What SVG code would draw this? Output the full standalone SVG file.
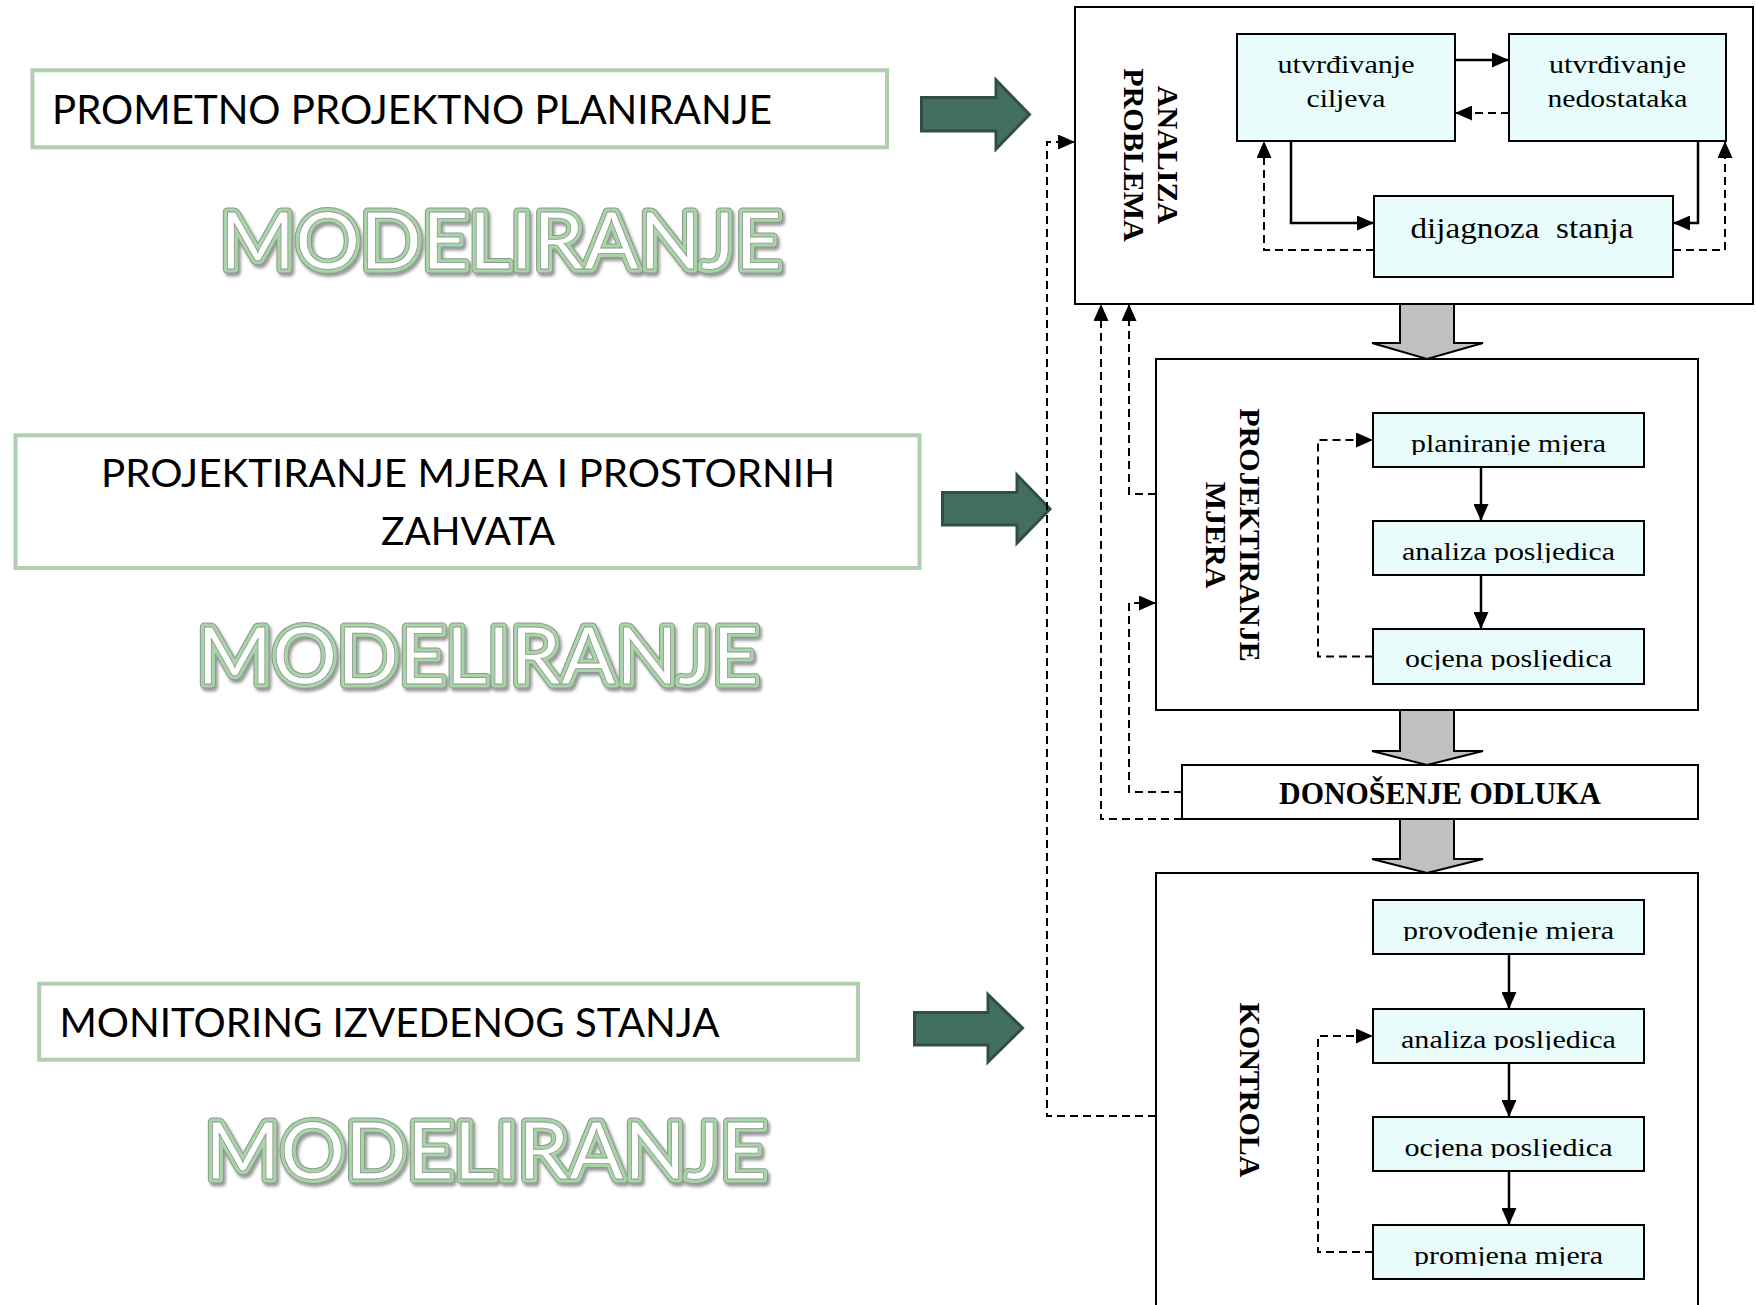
<svg xmlns="http://www.w3.org/2000/svg" xmlns:xlink="http://www.w3.org/1999/xlink" width="1756" height="1305" viewBox="0 0 1756 1305">
<style>
.box{fill:#fff;stroke:#000;stroke-width:2}
.inner{fill:#e8fcfc;stroke:#000;stroke-width:2}
.gbox{fill:#fff;stroke:#b0ceb0;stroke-width:4}
.garrow{fill:#436f5f;stroke:#2f4f43;stroke-width:3}
.gray{fill:#c0c0c0;stroke:#000;stroke-width:2}
.solid{fill:none;stroke:#000;stroke-width:2.5}
.dash{fill:none;stroke:#000;stroke-width:2;stroke-dasharray:8 5}
.serif{font-family:"Liberation Serif","Times New Roman",serif;fill:#000}
.sans{font-family:Lato,"Open Sans","Noto Sans",sans-serif;fill:#000}
.title{font-weight:bold;font-size:30px}
.lbl{font-size:25.5px}
.mid{text-anchor:middle}
.wo{fill:none;stroke:#8a9a8a;stroke-width:9;stroke-linejoin:round}
.wg{fill:none;stroke:#a9d3a9;stroke-width:7;stroke-linejoin:round}
.ww{fill:#fff;stroke:#8a9a8a;stroke-width:0.8}
</style>
<defs>
<marker id="ah" markerUnits="userSpaceOnUse" markerWidth="17" markerHeight="15" refX="17" refY="7.5" orient="auto">
<path d="M0,0 L17,7.5 L0,15 z" fill="#000"/>
</marker>
<filter id="shadow" x="-5%" y="-20%" width="110%" height="140%">
<feDropShadow dx="2" dy="3" stdDeviation="1.5" flood-color="#555" flood-opacity="0.6"/>
</filter>
<text id="mod1" x="220" y="269" font-family="Lato, Open Sans, sans-serif" font-size="80" textLength="562" lengthAdjust="spacingAndGlyphs">MODELIRANJE</text>
<text id="mod2" x="197" y="684" font-family="Lato, Open Sans, sans-serif" font-size="80" textLength="562" lengthAdjust="spacingAndGlyphs">MODELIRANJE</text>
<text id="mod3" x="205" y="1179" font-family="Lato, Open Sans, sans-serif" font-size="80" textLength="562" lengthAdjust="spacingAndGlyphs">MODELIRANJE</text>
<clipPath id="descClip">
<rect x="1374" y="413" width="270" height="42"/>
<rect x="1374" y="521" width="270" height="42"/>
<rect x="1374" y="629" width="270" height="41"/>
<rect x="1374" y="900" width="270" height="41"/>
<rect x="1374" y="1009" width="270" height="41"/>
<rect x="1374" y="1117" width="270" height="41"/>
<rect x="1374" y="1225" width="270" height="41"/>
</clipPath>
</defs>

<rect width="1756" height="1305" fill="#fff"/>

<!-- Left column -->
<g id="node-prometno">
<rect class="gbox" x="32.4" y="70.3" width="854.6" height="77"/>
<text class="sans" x="52" y="124" font-size="41" textLength="720" lengthAdjust="spacingAndGlyphs">PROMETNO PROJEKTNO PLANIRANJE</text>
</g>
<g id="modeliranje-1" filter="url(#shadow)">
<use href="#mod1" class="wo"/><use href="#mod1" class="wg"/><use href="#mod1" class="ww"/>
</g>
<g id="node-projektiranje">
<rect class="gbox" x="15.5" y="435.3" width="904" height="132.7"/>
<text class="sans mid" x="468" y="487" font-size="39" textLength="734" lengthAdjust="spacingAndGlyphs">PROJEKTIRANJE MJERA I PROSTORNIH</text>
<text class="sans mid" x="468" y="545" font-size="39" textLength="174" lengthAdjust="spacingAndGlyphs">ZAHVATA</text>
</g>
<g id="modeliranje-2" filter="url(#shadow)">
<use href="#mod2" class="wo"/><use href="#mod2" class="wg"/><use href="#mod2" class="ww"/>
</g>
<g id="node-monitoring">
<rect class="gbox" x="39.2" y="983.7" width="818.8" height="76"/>
<text class="sans" x="59.5" y="1037" font-size="41" textLength="660" lengthAdjust="spacingAndGlyphs">MONITORING IZVEDENOG STANJA</text>
</g>
<g id="modeliranje-3" filter="url(#shadow)">
<use href="#mod3" class="wo"/><use href="#mod3" class="wg"/><use href="#mod3" class="ww"/>
</g>

<!-- Green arrows -->
<g id="green-arrows">
<path class="garrow" d="M921.5,97.5 L996,97.5 L996,80 L1029.5,114.5 L996,149 L996,131 L921.5,131 Z"/>
<path class="garrow" d="M942.5,492.5 L1017,492.5 L1017,475 L1050,509 L1017,543 L1017,525 L942.5,525 Z"/>
<path class="garrow" d="M914.5,1012.5 L988,1012.5 L988,994.5 L1022.5,1028 L988,1062 L988,1045 L914.5,1045 Z"/>
</g>

<!-- Right column -->
<g id="node-analiza">
<rect class="box" x="1075" y="7" width="678" height="297"/>
<text class="serif title mid" transform="translate(1158,155) rotate(90)">ANALIZA</text>
<text class="serif title mid" transform="translate(1124,155) rotate(90)">PROBLEMA</text>
</g>
<g id="node-ciljeva">
<rect class="inner" x="1237" y="34" width="218" height="107"/>
<text class="serif lbl mid" x="1346" y="73" textLength="137" lengthAdjust="spacingAndGlyphs">utvrđivanje</text>
<text class="serif lbl mid" x="1346" y="107" textLength="79" lengthAdjust="spacingAndGlyphs">ciljeva</text>
</g>
<g id="node-nedostataka">
<rect class="inner" x="1509" y="34" width="217" height="107"/>
<text class="serif lbl mid" x="1617.5" y="73" textLength="137" lengthAdjust="spacingAndGlyphs">utvrđivanje</text>
<text class="serif lbl mid" x="1617.5" y="107" textLength="140" lengthAdjust="spacingAndGlyphs">nedostataka</text>
</g>
<g id="node-dijagnoza">
<rect class="inner" x="1374" y="196" width="299" height="81"/>
<text class="serif mid" x="1522" y="238" font-size="30" xml:space="preserve" textLength="223" lengthAdjust="spacingAndGlyphs">dijagnoza  stanja</text>
</g>

<g id="node-projektiranje-mjera">
<rect class="box" x="1156" y="359" width="542" height="351"/>
<text class="serif title mid" transform="translate(1240,535) rotate(90)">PROJEKTIRANJE</text>
<text class="serif title mid" transform="translate(1206,535) rotate(90)">MJERA</text>
</g>
<g id="node-planiranje">
<rect class="inner" x="1373" y="413" width="271" height="54"/>
<text class="serif lbl mid" x="1508.5" y="452" textLength="195" lengthAdjust="spacingAndGlyphs" clip-path="url(#descClip)">planiranje mjera</text>
</g>
<g id="node-analiza-p1">
<rect class="inner" x="1373" y="521" width="271" height="54"/>
<text class="serif lbl mid" x="1508.5" y="560" textLength="213" lengthAdjust="spacingAndGlyphs" clip-path="url(#descClip)">analiza posljedica</text>
</g>
<g id="node-ocjena-p1">
<rect class="inner" x="1373" y="629" width="271" height="55"/>
<text class="serif lbl mid" x="1508.5" y="667" textLength="207" lengthAdjust="spacingAndGlyphs" clip-path="url(#descClip)">ocjena posljedica</text>
</g>

<g id="node-odluka">
<rect class="box" x="1182" y="765" width="516" height="54"/>
<text class="serif mid" x="1440" y="804" font-size="31" font-weight="bold" textLength="322" lengthAdjust="spacingAndGlyphs">DONOŠENJE ODLUKA</text>
</g>

<g id="node-kontrola">
<rect class="box" x="1156" y="873" width="542" height="445"/>
<text class="serif title mid" transform="translate(1240,1090) rotate(90)">KONTROLA</text>
</g>
<g id="node-provodenje">
<rect class="inner" x="1373" y="900" width="271" height="54"/>
<text class="serif lbl mid" x="1508.5" y="938.5" textLength="211" lengthAdjust="spacingAndGlyphs" clip-path="url(#descClip)">provođenje mjera</text>
</g>
<g id="node-analiza-k">
<rect class="inner" x="1373" y="1009" width="271" height="54"/>
<text class="serif lbl mid" x="1508.5" y="1047.5" textLength="215" lengthAdjust="spacingAndGlyphs" clip-path="url(#descClip)">analiza posljedica</text>
</g>
<g id="node-ocjena-k">
<rect class="inner" x="1373" y="1117" width="271" height="54"/>
<text class="serif lbl mid" x="1508.5" y="1155.5" textLength="208" lengthAdjust="spacingAndGlyphs" clip-path="url(#descClip)">ocjena posljedica</text>
</g>
<g id="node-promjena">
<rect class="inner" x="1373" y="1225" width="271" height="54"/>
<text class="serif lbl mid" x="1508.5" y="1263.5" textLength="189" lengthAdjust="spacingAndGlyphs" clip-path="url(#descClip)">promjena mjera</text>
</g>

<!-- Connectors -->
<g id="connectors">
<path class="gray" d="M1400,304 L1454,304 L1454,343 L1483,343 L1427,359 L1372,343 L1400,343 Z"/>
<path class="gray" d="M1400,710 L1454,710 L1454,751 L1483,751 L1427,765 L1372,751 L1400,751 Z"/>
<path class="gray" d="M1400,819 L1454,819 L1454,859 L1483,859 L1427,873 L1372,859 L1400,859 Z"/>

<path class="solid" d="M1455,60 L1509,60" marker-end="url(#ah)"/>
<path class="dash" d="M1509,113 L1455,113" marker-end="url(#ah)"/>
<path class="solid" d="M1291,141 L1291,223 L1374,223" marker-end="url(#ah)"/>
<path class="solid" d="M1698,141 L1698,223 L1673,223" marker-end="url(#ah)"/>
<path class="dash" d="M1374,250 L1264,250 L1264,141" marker-end="url(#ah)"/>
<path class="dash" d="M1673,250 L1725,250 L1725,141" marker-end="url(#ah)"/>

<path class="solid" d="M1481,467 L1481,521" marker-end="url(#ah)"/>
<path class="solid" d="M1481,575 L1481,629" marker-end="url(#ah)"/>
<path class="dash" d="M1373,656.5 L1318,656.5 L1318,440 L1373,440" marker-end="url(#ah)"/>

<path class="solid" d="M1509,954 L1509,1009" marker-end="url(#ah)"/>
<path class="solid" d="M1509,1063 L1509,1117" marker-end="url(#ah)"/>
<path class="solid" d="M1509,1171 L1509,1225" marker-end="url(#ah)"/>
<path class="dash" d="M1373,1252 L1318,1252 L1318,1036 L1373,1036" marker-end="url(#ah)"/>

<path class="dash" d="M1156,1116 L1047,1116 L1047,142 L1075,142" marker-end="url(#ah)"/>
<path class="dash" d="M1182,819 L1101,819 L1101,304" marker-end="url(#ah)"/>
<path class="dash" d="M1156,494 L1129,494 L1129,304" marker-end="url(#ah)"/>
<path class="dash" d="M1182,792 L1129,792 L1129,603 L1156,603" marker-end="url(#ah)"/>
</g>
</svg>
